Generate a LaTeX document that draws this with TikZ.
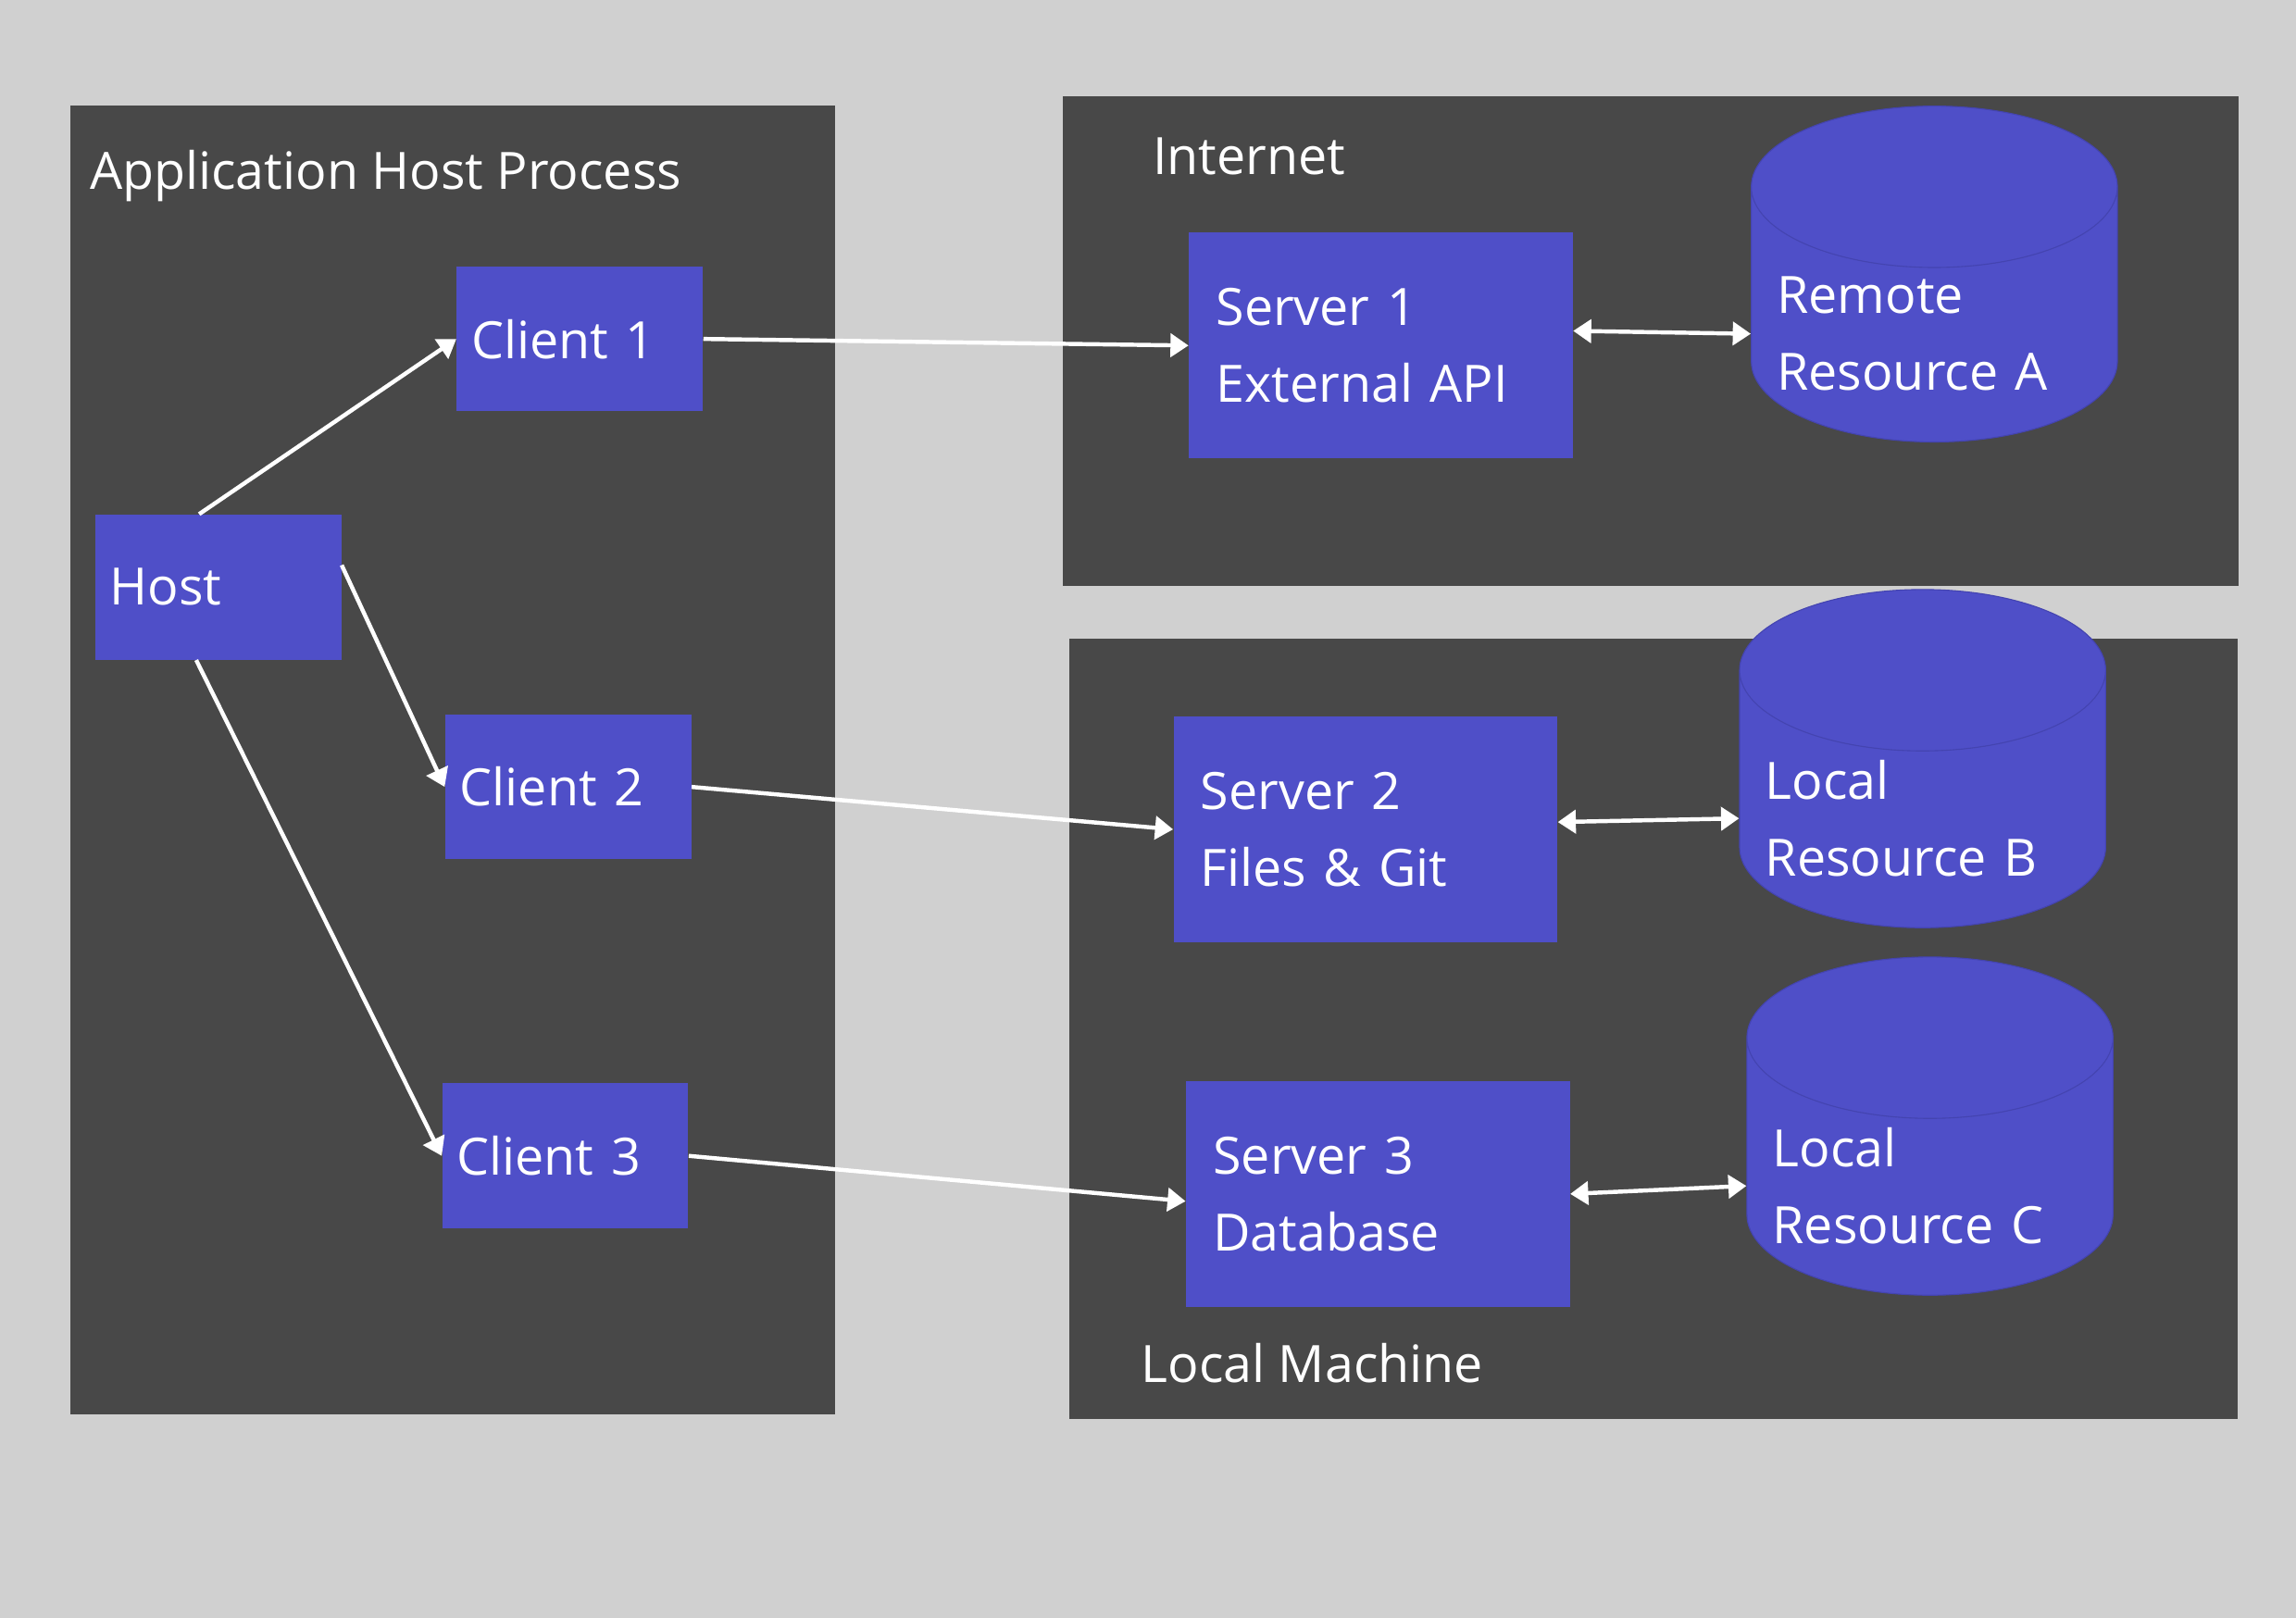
\documentclass[tikz,border=0pt]{standalone}
\usepackage{fontspec}
\setmainfont{Open Sans}
\usetikzlibrary{arrows.meta,shapes.geometric}
\definecolor{bggray}{HTML}{D0D0D0}
\definecolor{panel}{HTML}{484848}
\definecolor{boxblue}{HTML}{4F4FC8}
\definecolor{edgeblue}{HTML}{4444B0}
\tikzset{
  bigfont/.style={font=\fontsize{20}{30}\selectfont},
  panelbox/.style={fill=panel, draw=none},
  titletext/.style={bigfont, text=white, anchor=west, inner sep=0pt},
  clientbox/.style={fill=boxblue, draw=none, text=white, bigfont, align=left,
    minimum width=3.36cm, minimum height=1.98cm, text width=2.96cm, inner xsep=0.2cm},
  serverbox/.style={fill=boxblue, draw=none, text=white, bigfont, align=left,
    minimum width=5.24cm, minimum height=3.08cm, text width=4.5cm, inner xsep=0.37cm},
  store/.style={cylinder, shape border rotate=90, aspect=0.45, fill=boxblue, draw=edgeblue,
    text=white, bigfont, align=left, minimum width=5cm, minimum height=3.16cm,
    text width=4.3cm, inner xsep=0.3cm},
  link/.style={draw=white, line width=1.6pt, -{Triangle[length=7pt,width=9pt]}},
  dlink/.style={draw=white, line width=1.6pt, {Triangle[length=7pt,width=9pt]}-{Triangle[length=7pt,width=9pt]}}
}
\begin{document}
\begin{tikzpicture}
\fill[bggray] (0,0) rectangle (31.36,-22.1);
\useasboundingbox (0,0) rectangle (31.36,-22.1);
% panels
\fill[panelbox] (0.96,-1.44) rectangle (11.4,-19.32);
\fill[panelbox] (14.52,-1.32) rectangle (30.58,-8.0);
\fill[panelbox] (14.6,-8.72) rectangle (30.56,-19.38);
\node[titletext] (apptitle) at (1.22,-2.4) {Application Host Process};
\node[titletext] (nettitle) at (15.74,-2.14) {Internet};
\node[titletext] (loctitle) at (15.58,-18.62) {Local Machine};
% host and clients
\node[clientbox] (host) at (2.98,-8.02) {Host};
\node[clientbox] (client1) at (7.92,-4.63) {Client 1};
\node[clientbox] (client2) at (7.76,-10.75) {Client 2};
\node[clientbox] (client3) at (7.72,-15.79) {Client 3};
% servers
\node[serverbox] (server1) at (18.86,-4.72) {Server 1\\External API};
\node[serverbox] (server2) at (18.65,-11.33) {Server 2\\Files \& Git};
\node[serverbox] (server3) at (18.82,-16.31) {Server 3\\Database};
% resources
\node[store] (resA) at (26.42,-4.56) {Remote\\Resource A};
\node[store] (resB) at (26.26,-11.18) {Local\\Resource B};
\node[store] (resC) at (26.36,-16.2) {Local\\Resource C};
% connectors
\draw[link] ([xshift=-0.26cm]host.north) -- (client1.west);
\draw[link] ([yshift=0.3cm]host.east) -- (client2.west);
\draw[link] ([xshift=-0.3cm]host.south) -- (client3.west);
\draw[link] (client1.east) -- (server1.west);
\draw[link] (client2.east) -- (server2.west);
\draw[link] (client3.east) -- ([yshift=-0.1cm]server3.west);
\draw[dlink] ([yshift=0.2cm]server1.east) -- (resA.west);
\draw[dlink] ([yshift=0.1cm]server2.east) -- (resB.west);
\draw[dlink] (server3.east) -- (resC.west);
\end{tikzpicture}
\end{document}
